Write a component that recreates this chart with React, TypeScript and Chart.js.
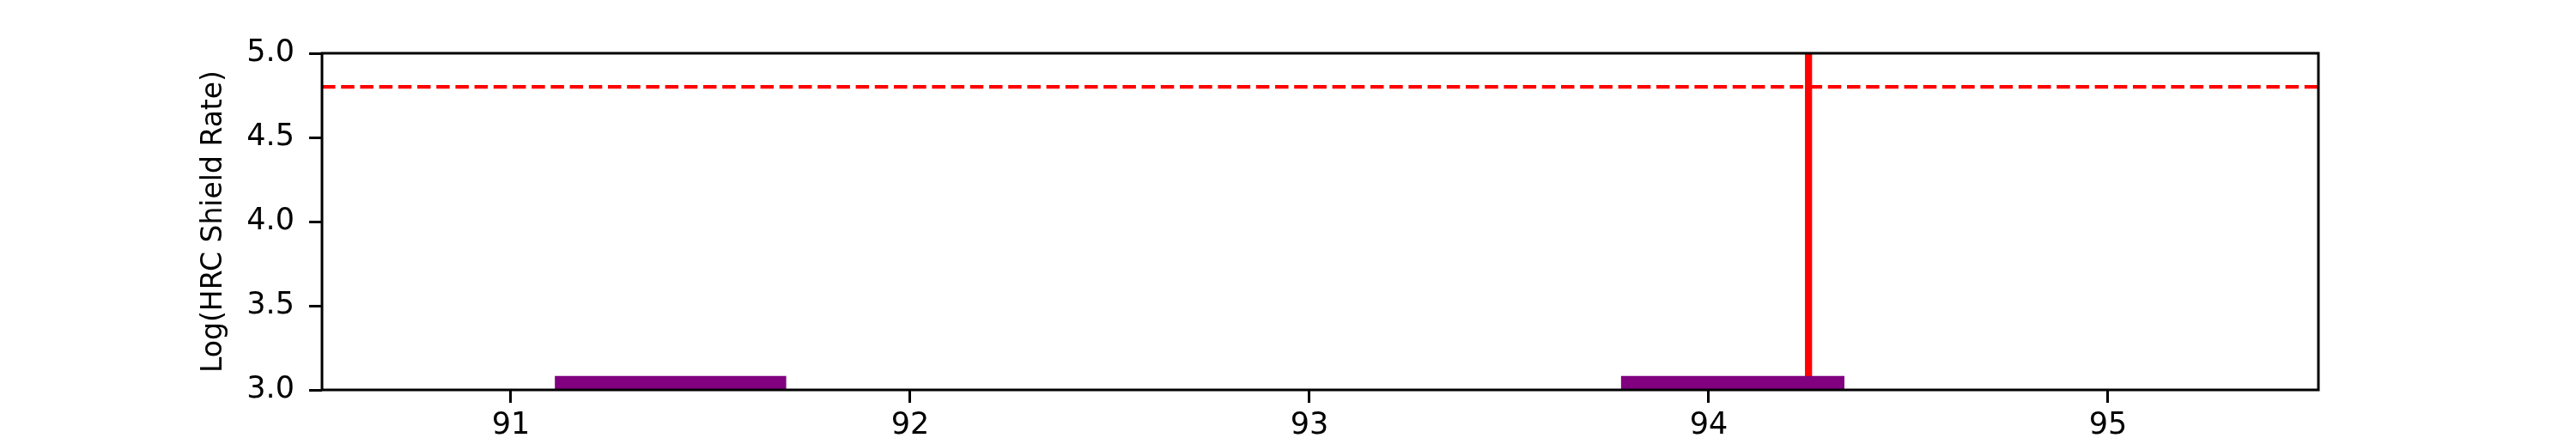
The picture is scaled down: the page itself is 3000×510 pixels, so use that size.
import React, { useEffect, useRef } from "react";
import { Chart, registerables } from "chart.js";

Chart.register(...registerables);

// ---- data ----
const xTickValues = [91, 92, 93, 94, 95];
const yTickValues = [3.0, 3.5, 4.0, 4.5, 5.0];
const spanStarts = [91.11, 93.78];
const spanEnds = [91.69, 94.34];
const spanTops = [3.083, 3.083];
const thresholdY = [4.8];
const markerX = [94.25];

const X_MIN = 90.527;
const X_MAX = 95.527;
const Y_MIN = 3.0;
const Y_MAX = 5.0;

const FONT = "'DejaVu Sans', sans-serif";

const framePlugin = {
  id: "frame",
  afterDatasetsDraw(chart: any) {
    const { ctx, chartArea } = chart;
    ctx.save();
    ctx.strokeStyle = "#000000";
    ctx.lineWidth = 3;
    ctx.strokeRect(
      chartArea.left,
      chartArea.top,
      chartArea.right - chartArea.left,
      chartArea.bottom - chartArea.top
    );
    ctx.restore();
  },
};

export default function App() {
  const canvasRef = useRef<HTMLCanvasElement | null>(null);

  useEffect(() => {
    if (!canvasRef.current) return;

    const spanSets = spanStarts.map((s, i) => ({
      label: "span" + i,
      data: [
        { x: s, y: Y_MIN },
        { x: s, y: spanTops[i] },
        { x: spanEnds[i], y: spanTops[i] },
        { x: spanEnds[i], y: Y_MIN },
      ],
      borderWidth: 0,
      borderColor: "rgba(0,0,0,0)",
      backgroundColor: "#800080",
      fill: "start",
      pointRadius: 0,
      tension: 0,
    }));

    const hline = thresholdY.map((y) => ({
      label: "threshold",
      data: [
        { x: X_MIN, y },
        { x: X_MAX, y },
      ],
      borderColor: "#ff0000",
      borderWidth: 4.2,
      borderDash: [15.5, 6.7],
      borderCapStyle: "butt",
      pointRadius: 0,
      fill: false,
    }));

    const vline = markerX.map((x) => ({
      label: "marker",
      data: [
        { x, y: Y_MIN },
        { x, y: Y_MAX },
      ],
      borderColor: "#ff0000",
      borderWidth: 8.3,
      borderCapStyle: "butt",
      pointRadius: 0,
      fill: false,
    }));

    const chart = new Chart(canvasRef.current, {
      type: "line",
      data: { datasets: [...spanSets, ...hline, ...vline] as any },
      plugins: [framePlugin],
      options: {
        animation: false,
        responsive: false,
        maintainAspectRatio: false,
        layout: { padding: { left: 0, right: 300, top: 62, bottom: 0 } },
        plugins: {
          legend: { display: false },
          tooltip: { enabled: false },
          title: { display: false },
        },
        scales: {
          x: {
            type: "linear",
            min: X_MIN,
            max: X_MAX,
            afterBuildTicks: (scale: any) => {
              scale.ticks = xTickValues.map((v) => ({ value: v }));
            },
            afterFit: (scale: any) => {
              scale.height = 56;
            },
            border: { display: false },
            grid: {
              display: true,
              drawOnChartArea: false,
              drawTicks: true,
              tickLength: 15,
              tickWidth: 3,
              tickColor: "#000000",
            },
            ticks: {
              autoSkip: false,
              maxRotation: 0,
              padding: 6,
              color: "#000000",
              font: { family: FONT, size: 35 },
              callback: (v: any) => String(v),
            },
          },
          y: {
            type: "linear",
            min: Y_MIN,
            max: Y_MAX,
            afterBuildTicks: (scale: any) => {
              scale.ticks = yTickValues.map((v) => ({ value: v }));
            },
            afterFit: (scale: any) => {
              scale.width = 375;
            },
            border: { display: false },
            grid: {
              display: true,
              drawOnChartArea: false,
              drawTicks: true,
              tickLength: 15,
              tickWidth: 3,
              tickColor: "#000000",
            },
            ticks: {
              padding: 17,
              color: "#000000",
              font: { family: FONT, size: 35 },
              callback: (v: any) => Number(v).toFixed(1),
            },
            title: {
              display: true,
              text: "Log(HRC Shield Rate)",
              color: "#000000",
              font: { family: FONT, size: 33 },
              padding: { top: 230, bottom: 0 },
            },
          },
        },
      },
    });

    return () => chart.destroy();
  }, []);

  return (
    <div
      style={{
        position: "fixed",
        left: 0,
        top: 0,
        width: 3000,
        height: 510,
        background: "#ffffff",
      }}
    >
      <canvas ref={canvasRef} width={3000} height={510} style={{ width: 3000, height: 510 }} />
    </div>
  );
}
